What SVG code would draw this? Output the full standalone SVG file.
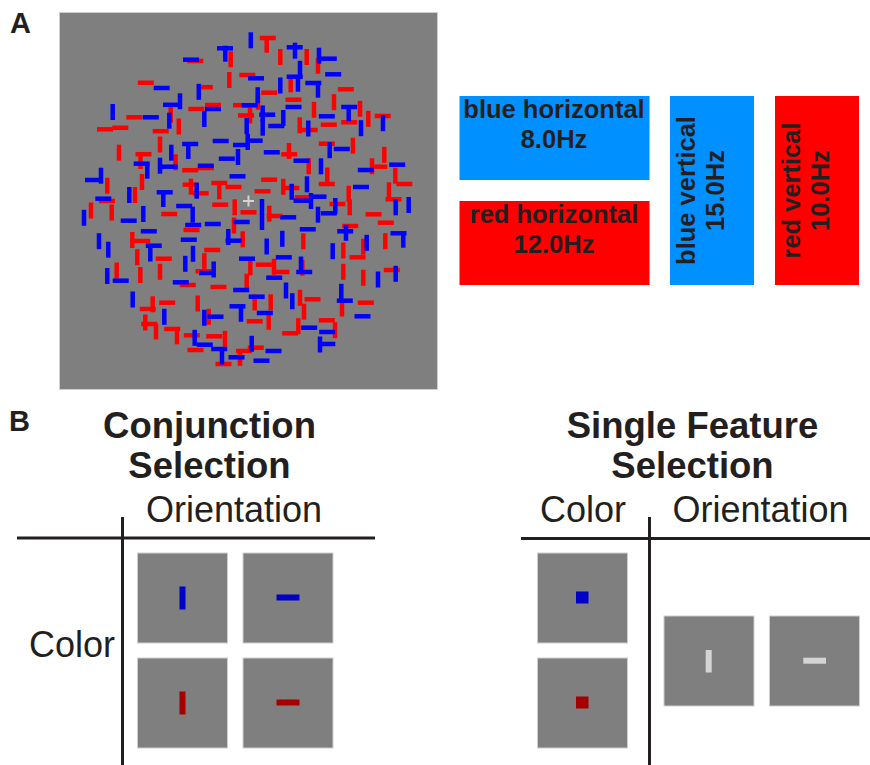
<svg xmlns="http://www.w3.org/2000/svg" width="870" height="765" viewBox="0 0 870 765">
<style>
.lbl{font-family:"Liberation Sans",Arial,sans-serif;font-weight:bold;font-size:29px;fill:#231f20}
.box{font-family:"Liberation Sans",Arial,sans-serif;font-weight:bold;font-size:25.5px;fill:#231f20;text-anchor:middle}
.ttl{font-family:"Liberation Sans",Arial,sans-serif;font-weight:bold;font-size:36.5px;fill:#231f20;text-anchor:middle}
.ax{font-family:"Liberation Sans",Arial,sans-serif;font-size:36px;fill:#231f20;text-anchor:middle}
.gray{fill:#7f7f7f;stroke:#cfcfcf;stroke-width:1}
.axis{stroke:#231f20;stroke-width:3;fill:none}
</style>
<defs>
<rect id="h" x="-8" y="-2.25" width="16" height="4.5"/>
<rect id="v" x="-2.25" y="-8" width="4.5" height="16"/>
</defs>
<rect width="870" height="765" fill="#ffffff"/>

<g id="panelA">
<text class="lbl" x="10" y="33">A</text>
<g id="stimulus">
<rect class="gray" x="59.5" y="12.5" width="378" height="377"/>
<g id="red-h" fill="#ff0000">
<use href="#h" x="195.3" y="61"/><use href="#h" x="247.3" y="75"/><use href="#h" x="145.8" y="82.8"/><use href="#h" x="204.8" y="87.2"/><use href="#h" x="134.3" y="117.3"/><use href="#h" x="196.3" y="109"/><use href="#h" x="213" y="105"/><use href="#h" x="241" y="105.2"/><use href="#h" x="246" y="115.5"/><use href="#h" x="105" y="129.3"/><use href="#h" x="120.3" y="127.8"/><use href="#h" x="160.7" y="131.2"/><use href="#h" x="143.5" y="154.2"/><use href="#h" x="190.2" y="170.2"/><use href="#h" x="205.8" y="168"/><use href="#h" x="190.7" y="184.7"/><use href="#h" x="200.7" y="193.3"/><use href="#h" x="219.3" y="183"/><use href="#h" x="233.5" y="187"/><use href="#h" x="107" y="201"/><use href="#h" x="267.8" y="38"/><use href="#h" x="345.8" y="89.3"/><use href="#h" x="269.2" y="92.7"/><use href="#h" x="293.5" y="99.7"/><use href="#h" x="382.7" y="116"/><use href="#h" x="309.7" y="130"/><use href="#h" x="328.8" y="124.7"/><use href="#h" x="349.2" y="122.3"/><use href="#h" x="326.8" y="143.7"/><use href="#h" x="289.2" y="154.3"/><use href="#h" x="379.2" y="166.7"/><use href="#h" x="404.3" y="184"/><use href="#h" x="326.8" y="184"/><use href="#h" x="269.2" y="179.7"/><use href="#h" x="291.3" y="188"/><use href="#h" x="302.8" y="197.3"/><use href="#h" x="393.5" y="199.3"/><use href="#h" x="262.5" y="191.3"/><use href="#h" x="169.2" y="214"/><use href="#h" x="220.2" y="204.7"/><use href="#h" x="248.5" y="212.3"/><use href="#h" x="191.5" y="230"/><use href="#h" x="142.2" y="241"/><use href="#h" x="212.2" y="250"/><use href="#h" x="163.8" y="258.7"/><use href="#h" x="203.5" y="271.3"/><use href="#h" x="187.8" y="285"/><use href="#h" x="218.5" y="287"/><use href="#h" x="147.8" y="309"/><use href="#h" x="167.2" y="302.7"/><use href="#h" x="149.2" y="324"/><use href="#h" x="172.2" y="329"/><use href="#h" x="191.8" y="335.3"/><use href="#h" x="214.2" y="336.3"/><use href="#h" x="195.5" y="350"/><use href="#h" x="223.5" y="364"/><use href="#h" x="244" y="351"/><use href="#h" x="274.7" y="216"/><use href="#h" x="337.5" y="204"/><use href="#h" x="373.5" y="214.3"/><use href="#h" x="385.8" y="222.7"/><use href="#h" x="350.2" y="226"/><use href="#h" x="357.5" y="257.3"/><use href="#h" x="263.8" y="264.7"/><use href="#h" x="281.5" y="272"/><use href="#h" x="391.8" y="270"/><use href="#h" x="312.5" y="299.3"/><use href="#h" x="365.8" y="302.7"/><use href="#h" x="254.7" y="321.3"/><use href="#h" x="326.8" y="320.3"/><use href="#h" x="290.2" y="333.3"/><use href="#h" x="255.8" y="347.7"/>
</g>
<g id="red-v" fill="#ff0000">
<use href="#v" x="230.7" y="59.3"/><use href="#v" x="229.3" y="80"/><use href="#v" x="170.7" y="114.7"/><use href="#v" x="178.8" y="126.5"/><use href="#v" x="250" y="115.5"/><use href="#v" x="160" y="144.5"/><use href="#v" x="119" y="152.7"/><use href="#v" x="140.5" y="161"/><use href="#v" x="175.5" y="162.3"/><use href="#v" x="107.3" y="185.7"/><use href="#v" x="142" y="182"/><use href="#v" x="191" y="186.7"/><use href="#v" x="219.3" y="191.3"/><use href="#v" x="135" y="195"/><use href="#v" x="266.7" y="44.7"/><use href="#v" x="280.3" y="57"/><use href="#v" x="306.7" y="57"/><use href="#v" x="318" y="65.7"/><use href="#v" x="290.7" y="84.3"/><use href="#v" x="258" y="101.8"/><use href="#v" x="314" y="109.8"/><use href="#v" x="334" y="102.2"/><use href="#v" x="360" y="108.8"/><use href="#v" x="368.3" y="118.8"/><use href="#v" x="299.7" y="125.3"/><use href="#v" x="353" y="145.7"/><use href="#v" x="289" y="151"/><use href="#v" x="308.7" y="166.3"/><use href="#v" x="384.3" y="154.8"/><use href="#v" x="372" y="166.3"/><use href="#v" x="395.3" y="175.7"/><use href="#v" x="327.3" y="175.5"/><use href="#v" x="283.3" y="186.8"/><use href="#v" x="348.7" y="193.7"/><use href="#v" x="389" y="190.3"/><use href="#v" x="91" y="210.5"/><use href="#v" x="111.7" y="212.5"/><use href="#v" x="234.7" y="207.3"/><use href="#v" x="234" y="225.5"/><use href="#v" x="242.7" y="239.3"/><use href="#v" x="132.3" y="240"/><use href="#v" x="137.3" y="257.2"/><use href="#v" x="204.3" y="261.2"/><use href="#v" x="116.7" y="270.5"/><use href="#v" x="140.3" y="275"/><use href="#v" x="160" y="271.8"/><use href="#v" x="246.7" y="281.7"/><use href="#v" x="152.7" y="304.3"/><use href="#v" x="197.7" y="303.5"/><use href="#v" x="208.7" y="316.8"/><use href="#v" x="145.3" y="322.5"/><use href="#v" x="156" y="331.5"/><use href="#v" x="177" y="336.3"/><use href="#v" x="225" y="338.8"/><use href="#v" x="240" y="357.8"/><use href="#v" x="269.3" y="213.7"/><use href="#v" x="349.7" y="207.3"/><use href="#v" x="303.3" y="241.3"/><use href="#v" x="385.3" y="241.2"/><use href="#v" x="343.3" y="250.5"/><use href="#v" x="363.3" y="246.7"/><use href="#v" x="274" y="266.8"/><use href="#v" x="302.3" y="267.7"/><use href="#v" x="250.3" y="267.3"/><use href="#v" x="343.3" y="271.8"/><use href="#v" x="363.3" y="277.8"/><use href="#v" x="300" y="297.8"/><use href="#v" x="304" y="311.7"/><use href="#v" x="342" y="308.5"/><use href="#v" x="254.7" y="302.5"/><use href="#v" x="270.7" y="302.3"/><use href="#v" x="268.7" y="321.8"/><use href="#v" x="335" y="330.2"/><use href="#v" x="298.3" y="326.2"/>
</g>
<g id="blue-h" fill="#0000ff">
<use href="#h" x="225" y="48.3"/><use href="#h" x="191" y="59.7"/><use href="#h" x="256" y="78.3"/><use href="#h" x="161.7" y="88"/><use href="#h" x="171" y="104.8"/><use href="#h" x="150.8" y="117.3"/><use href="#h" x="213" y="109"/><use href="#h" x="249.7" y="105.3"/><use href="#h" x="190.2" y="144"/><use href="#h" x="220.7" y="141"/><use href="#h" x="241" y="145"/><use href="#h" x="141.7" y="163.7"/><use href="#h" x="169.7" y="166.7"/><use href="#h" x="205.8" y="165.8"/><use href="#h" x="226.8" y="158.7"/><use href="#h" x="93" y="180"/><use href="#h" x="237.5" y="176.3"/><use href="#h" x="164.7" y="192.3"/><use href="#h" x="103.3" y="198.7"/><use href="#h" x="294.7" y="47.3"/><use href="#h" x="328.8" y="58.7"/><use href="#h" x="294.7" y="76.7"/><use href="#h" x="333.2" y="74.3"/><use href="#h" x="313.3" y="83"/><use href="#h" x="293.5" y="107"/><use href="#h" x="349.2" y="107"/><use href="#h" x="267.2" y="114.7"/><use href="#h" x="276.3" y="126"/><use href="#h" x="326.8" y="116.3"/><use href="#h" x="254.7" y="140.7"/><use href="#h" x="341.8" y="149"/><use href="#h" x="271.8" y="152.3"/><use href="#h" x="301.5" y="160.7"/><use href="#h" x="365.8" y="170"/><use href="#h" x="397.2" y="164.7"/><use href="#h" x="361" y="187"/><use href="#h" x="318.5" y="196.7"/><use href="#h" x="128.7" y="220.7"/><use href="#h" x="184.2" y="206"/><use href="#h" x="193.2" y="225"/><use href="#h" x="212.8" y="224"/><use href="#h" x="241.7" y="222"/><use href="#h" x="148.8" y="231.3"/><use href="#h" x="188.8" y="239.7"/><use href="#h" x="233.5" y="240.7"/><use href="#h" x="153.8" y="245.7"/><use href="#h" x="207" y="273"/><use href="#h" x="247" y="258.7"/><use href="#h" x="120.7" y="280.7"/><use href="#h" x="180.8" y="282.3"/><use href="#h" x="241.2" y="290"/><use href="#h" x="237.5" y="306.3"/><use href="#h" x="215.5" y="316.7"/><use href="#h" x="204.8" y="344.7"/><use href="#h" x="219.2" y="349"/><use href="#h" x="236.5" y="357.3"/><use href="#h" x="288.2" y="217.3"/><use href="#h" x="328.8" y="213.3"/><use href="#h" x="301.5" y="200.7"/><use href="#h" x="345.2" y="231.3"/><use href="#h" x="307.8" y="229.3"/><use href="#h" x="398.5" y="233.3"/><use href="#h" x="283.8" y="257.3"/><use href="#h" x="304.2" y="272"/><use href="#h" x="274.2" y="277.7"/><use href="#h" x="344.8" y="300.7"/><use href="#h" x="362.5" y="316.3"/><use href="#h" x="256.7" y="296.7"/><use href="#h" x="264.8" y="313"/><use href="#h" x="309.2" y="327.7"/><use href="#h" x="327.2" y="332"/><use href="#h" x="327.3" y="344"/><use href="#h" x="273.5" y="351"/><use href="#h" x="261.5" y="360.7"/>
</g>
<g id="blue-v" fill="#0000ff">
<use href="#v" x="225.3" y="53.7"/><use href="#v" x="198.8" y="91.8"/><use href="#v" x="180" y="101.3"/><use href="#v" x="112.7" y="112"/><use href="#v" x="169.3" y="120.7"/><use href="#v" x="204.3" y="119"/><use href="#v" x="246.7" y="126"/><use href="#v" x="188.3" y="151"/><use href="#v" x="247.7" y="142"/><use href="#v" x="171.3" y="152.7"/><use href="#v" x="147.3" y="170.7"/><use href="#v" x="160" y="165.7"/><use href="#v" x="238" y="157"/><use href="#v" x="101" y="175.7"/><use href="#v" x="196.7" y="190.7"/><use href="#v" x="129.3" y="195"/><use href="#v" x="163.3" y="199"/><use href="#v" x="250.8" y="40.3"/><use href="#v" x="295" y="50.7"/><use href="#v" x="319" y="55.7"/><use href="#v" x="300" y="68.8"/><use href="#v" x="298" y="83.7"/><use href="#v" x="280.3" y="85.5"/><use href="#v" x="318" y="89.7"/><use href="#v" x="257.7" y="95.2"/><use href="#v" x="348.7" y="113.2"/><use href="#v" x="383" y="123.2"/><use href="#v" x="262.7" y="113.5"/><use href="#v" x="262.7" y="127.7"/><use href="#v" x="283.3" y="118"/><use href="#v" x="308.3" y="128.5"/><use href="#v" x="361" y="128.2"/><use href="#v" x="329.7" y="150.2"/><use href="#v" x="321" y="166.3"/><use href="#v" x="307" y="184.3"/><use href="#v" x="291.7" y="191.8"/><use href="#v" x="311" y="201"/><use href="#v" x="84" y="217.8"/><use href="#v" x="143.3" y="214"/><use href="#v" x="192.7" y="214.7"/><use href="#v" x="228.3" y="237"/><use href="#v" x="99" y="241.2"/><use href="#v" x="150.3" y="253.5"/><use href="#v" x="108.3" y="249.7"/><use href="#v" x="193" y="253.8"/><use href="#v" x="185.3" y="263.8"/><use href="#v" x="213.7" y="269.5"/><use href="#v" x="107.3" y="276"/><use href="#v" x="132.7" y="299.5"/><use href="#v" x="164.3" y="316.8"/><use href="#v" x="241" y="313.8"/><use href="#v" x="204.3" y="317.8"/><use href="#v" x="194.7" y="337.8"/><use href="#v" x="222" y="356.5"/><use href="#v" x="262" y="207"/><use href="#v" x="262" y="222"/><use href="#v" x="318" y="214.7"/><use href="#v" x="335.3" y="206"/><use href="#v" x="395.7" y="207.3"/><use href="#v" x="408.7" y="205"/><use href="#v" x="346" y="232.8"/><use href="#v" x="282.3" y="238.8"/><use href="#v" x="403.3" y="239.7"/><use href="#v" x="266.7" y="246.5"/><use href="#v" x="332.7" y="251.2"/><use href="#v" x="366.7" y="242.8"/><use href="#v" x="301" y="264.5"/><use href="#v" x="378" y="279.5"/><use href="#v" x="395.7" y="273.8"/><use href="#v" x="286" y="290.5"/><use href="#v" x="292.3" y="301.2"/><use href="#v" x="341.3" y="291.8"/><use href="#v" x="320" y="344.5"/><use href="#v" x="251.7" y="343.8"/>
</g>
<g id="fixation" stroke="#d4d4d4" stroke-width="2">
<line x1="243" y1="201" x2="254" y2="201"/>
<line x1="248.5" y1="195.5" x2="248.5" y2="206.5"/>
</g>
</g>

<g id="blue-horizontal">
<rect x="459.5" y="96" width="190" height="84" fill="#0090ff"/>
<text class="box" x="554" y="118">blue horizontal</text>
<text class="box" x="554" y="148">8.0Hz</text>
</g>
<g id="red-horizontal">
<rect x="459.5" y="201" width="190" height="84" fill="#ff0000"/>
<text class="box" x="554" y="223">red horizontal</text>
<text class="box" x="554" y="253">12.0Hz</text>
</g>
<g id="blue-vertical">
<rect x="670" y="96" width="84" height="189" fill="#0090ff"/>
<text class="box" transform="translate(695,190.5) rotate(-90)">blue vertical</text>
<text class="box" transform="translate(724,190.5) rotate(-90)">15.0Hz</text>
</g>
<g id="red-vertical">
<rect x="775" y="96" width="84" height="189" fill="#ff0000"/>
<text class="box" transform="translate(800,190.5) rotate(-90)">red vertical</text>
<text class="box" transform="translate(829,190.5) rotate(-90)">10.0Hz</text>
</g>
</g>

<g id="panelB">
<text class="lbl" x="9" y="431">B</text>

<g id="conjunction">
<text class="ttl" x="209.5" y="438">Conjunction</text>
<text class="ttl" x="209.5" y="478">Selection</text>
<text class="ax" x="234" y="522">Orientation</text>
<text class="ax" x="72" y="657">Color</text>
<line class="axis" x1="17" y1="538" x2="375" y2="538"/>
<line class="axis" x1="122.5" y1="517" x2="122.5" y2="765"/>
<g id="conj-blue-vertical">
<rect class="gray" x="137.5" y="553" width="90" height="90"/>
<rect x="179.5" y="586.5" width="6" height="23" fill="#0000c8"/>
</g>
<g id="conj-blue-horizontal">
<rect class="gray" x="243" y="553" width="90" height="90"/>
<rect x="276.5" y="594.5" width="23" height="6" fill="#0000c8"/>
</g>
<g id="conj-red-vertical">
<rect class="gray" x="137.5" y="658" width="90" height="90"/>
<rect x="179.5" y="691.5" width="6" height="23" fill="#a50000"/>
</g>
<g id="conj-red-horizontal">
<rect class="gray" x="243" y="658" width="90" height="90"/>
<rect x="276.5" y="699.5" width="23" height="6" fill="#a50000"/>
</g>
</g>

<g id="single-feature">
<text class="ttl" x="692.5" y="438">Single Feature</text>
<text class="ttl" x="692.5" y="478">Selection</text>
<text class="ax" x="583" y="522">Color</text>
<text class="ax" x="760.5" y="522">Orientation</text>
<line class="axis" x1="521" y1="538.5" x2="870" y2="538.5"/>
<line class="axis" x1="649.5" y1="517" x2="649.5" y2="765"/>
<g id="single-blue">
<rect class="gray" x="537.5" y="553" width="90" height="90"/>
<rect x="576" y="591.5" width="12.5" height="12" fill="#0000c8"/>
</g>
<g id="single-red">
<rect class="gray" x="537.5" y="658" width="90" height="90"/>
<rect x="576" y="696.5" width="12.5" height="12" fill="#a50000"/>
</g>
<g id="single-vertical">
<rect class="gray" x="664" y="616" width="90" height="90"/>
<rect x="705.7" y="650" width="6" height="22.5" fill="#d4d4d4"/>
</g>
<g id="single-horizontal">
<rect class="gray" x="769.5" y="616" width="90" height="90"/>
<rect x="803.3" y="657.7" width="22.7" height="6" fill="#d4d4d4"/>
</g>
</g>
</g>
</svg>
